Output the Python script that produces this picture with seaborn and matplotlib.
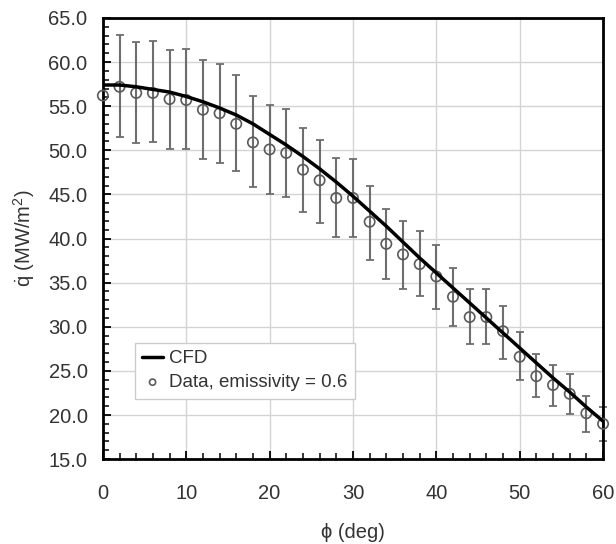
import matplotlib
matplotlib.use("Agg")
import matplotlib.pyplot as plt
import matplotlib.ticker as mticker
import numpy as np
import pandas as pd
import seaborn as sns

sns.set_style("white")
plt.rcParams['font.family'] = ['Liberation Sans', 'DejaVu Sans']
plt.rcParams['mathtext.fontset'] = 'custom'
plt.rcParams['mathtext.rm'] = 'Liberation Sans'
plt.rcParams['mathtext.it'] = 'Liberation Sans:italic'

cfd_phi = [0, 2, 4, 6, 8, 10, 12, 14, 16, 18, 20, 22, 24, 26, 28, 30,
           32, 34, 36, 38, 40, 42, 44, 46, 48, 50, 52, 54, 56, 58, 60]
cfd_q = [57.4, 57.4, 57.2, 56.9, 56.6, 56.1, 55.5, 54.8, 54.0, 53.0, 51.8,
         50.6, 49.3, 47.9, 46.4, 44.8, 43.1, 41.4, 39.6, 37.8, 36.1, 34.4,
         32.7, 31.0, 29.3, 27.6, 25.9, 24.2, 22.6, 20.9, 19.3]

# measured data, emissivity = 0.6
data_phi = [0, 2, 4, 6, 8, 10, 12, 14, 16, 18, 20, 22, 24, 26, 28, 30,
            32, 34, 36, 38, 40, 42, 44, 46, 48, 50, 52, 54, 56, 58, 60]
data_q = [56.2, 57.2, 56.5, 56.5, 55.8, 55.7, 54.6, 54.2, 53.0, 50.9, 50.1,
          49.7, 47.8, 46.6, 44.6, 44.6, 41.9, 39.4, 38.2, 37.1, 35.7, 33.4,
          31.1, 31.1, 29.5, 26.6, 24.4, 23.4, 22.4, 20.2, 19.0]
data_hi = [None, 63.1, 62.3, 62.4, 61.4, 61.5, 60.2, 59.8, 58.5, 56.1, 55.1,
           54.7, 52.5, 51.2, 49.1, 49.0, 46.0, 43.4, 42.0, 40.9, 39.3, 36.7,
           34.3, 34.3, 32.3, 29.4, 26.9, 25.7, 24.6, 22.2, 20.9]
data_lo = [None, 51.5, 50.8, 50.9, 50.1, 50.1, 49.0, 48.6, 47.7, 45.8, 45.0,
           44.7, 43.0, 41.8, 40.2, 40.2, 37.6, 35.4, 34.3, 33.5, 32.0, 30.1,
           28.1, 28.1, 26.4, 24.0, 22.0, 21.0, 20.1, 18.1, 17.0]

cfd = pd.DataFrame({"phi": cfd_phi, "q": cfd_q})
df = pd.DataFrame({"phi": data_phi, "q": data_q, "hi": data_hi, "lo": data_lo})
bars = df.dropna()

fig = plt.figure(figsize=(6.16, 5.44), dpi=100)
ax = fig.add_axes([0.167, 0.156, 0.812, 0.811])

ax.errorbar(bars["phi"], bars["q"],
            yerr=[bars["q"] - bars["lo"], bars["hi"] - bars["q"]],
            fmt="none", ecolor="#6e6e6e", elinewidth=1.5, capsize=3,
            capthick=1.3, zorder=2, clip_on=False)
sns.scatterplot(data=df, x="phi", y="q", ax=ax, marker="o", s=55,
                facecolor="none", edgecolor="#5a5a5a", linewidth=1.2,
                zorder=3, clip_on=False, label="Data, emissivity = 0.6")
sns.lineplot(data=cfd, x="phi", y="q", ax=ax, color="black", linewidth=2.5,
             zorder=4, label="CFD")

ax.set_xlim(0, 60)
ax.set_ylim(15, 65)
ax.xaxis.set_major_locator(mticker.MultipleLocator(10))
ax.xaxis.set_minor_locator(mticker.MultipleLocator(2))
ax.yaxis.set_major_locator(mticker.MultipleLocator(5))
ax.yaxis.set_minor_locator(mticker.MultipleLocator(1))
ax.yaxis.set_major_formatter(mticker.FormatStrFormatter("%.1f"))
ax.grid(True, which="major", color="#d4d4d4", linewidth=1.0)
ax.set_axisbelow(True)
ax.tick_params(which="both", direction="in", left=True, bottom=True,
               top=False, right=False, colors="black", labelcolor="#333333",
               labelsize=14.5)
ax.tick_params(axis="x", which="major", length=6, width=1.3, pad=18)
ax.tick_params(axis="y", which="major", length=6, width=1.3, pad=11)
ax.tick_params(which="minor", length=4, width=1.1)
for sp in ax.spines.values():
    sp.set_color("black")
    sp.set_linewidth(2.0)

ax.set_xlabel("\u03d5 (deg)", fontsize=14.5, color="#333333", labelpad=14)
ax.set_ylabel(r"$\dot{\mathrm{q}}$ (MW/m$^2$)", fontsize=14.5, color="#333333",
              labelpad=8)

handles, labels = ax.get_legend_handles_labels()
order = [labels.index("CFD"), labels.index("Data, emissivity = 0.6")]
leg = ax.legend([handles[i] for i in order], [labels[i] for i in order],
                loc="upper left", bbox_to_anchor=(0.045, 0.285),
                fontsize=13.5, frameon=True, fancybox=False, framealpha=1,
                edgecolor="#cccccc", handlelength=1.1, handletextpad=0.35,
                borderpad=0.4, labelspacing=0.35, markerscale=0.6)
for t in leg.get_texts():
    t.set_color("#333333")

fig.savefig("out.png", dpi=100)
